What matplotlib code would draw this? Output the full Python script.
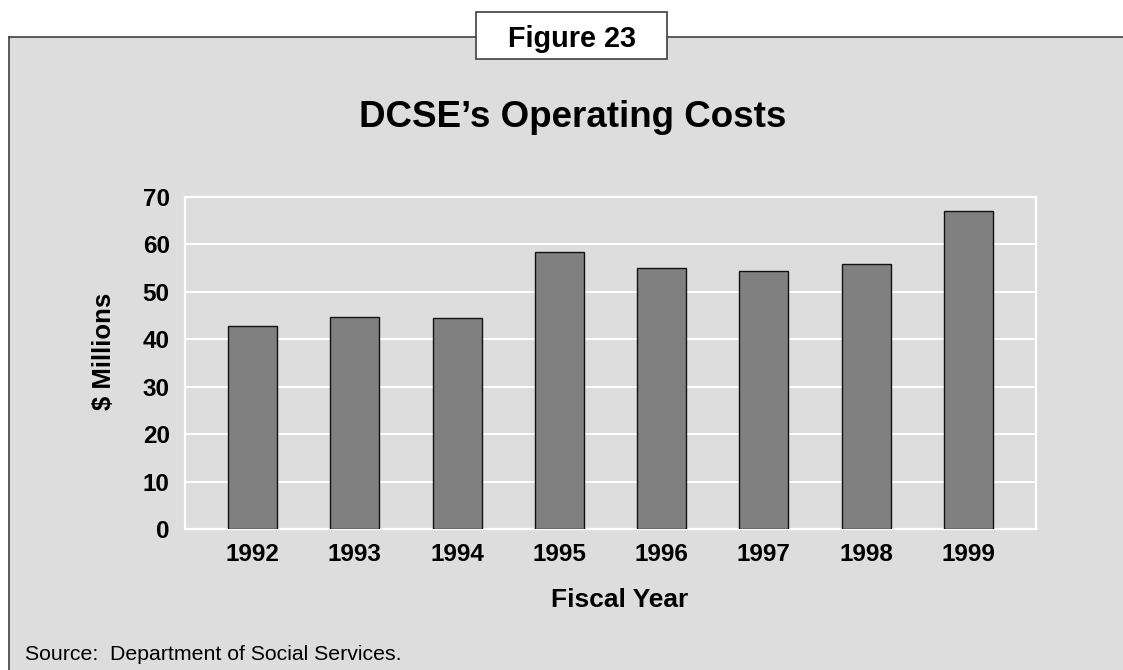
import matplotlib.pyplot as plt
from matplotlib.patches import Rectangle
from matplotlib.lines import Line2D

plt.rcParams['font.family'] = ['Liberation Sans', 'DejaVu Sans']

# Data
years = ['1992', '1993', '1994', '1995', '1996', '1997', '1998', '1999']
costs = [42.8, 44.8, 44.5, 58.3, 55.0, 54.5, 55.8, 67.1]
y_ticks = [0, 10, 20, 30, 40, 50, 60, 70]

W, H = 1123, 670
BG = '#dddddd'
FRAME = '#404040'


def fx(px):
    return px / W


def fy(py):
    return 1 - py / H


fig = plt.figure(figsize=(W / 100, H / 100), dpi=100, facecolor='white')

# grey panel with frame lines on top and left
fig.patches.append(Rectangle((fx(9), 0), 1 - fx(9), fy(37), transform=fig.transFigure,
                             facecolor=BG, edgecolor='none', zorder=-10))
fig.lines.append(Line2D([fx(9), 1], [fy(37), fy(37)], transform=fig.transFigure,
                        color=FRAME, lw=1.2, zorder=-5))
fig.lines.append(Line2D([fx(9), fx(9)], [fy(37), 0], transform=fig.transFigure,
                        color=FRAME, lw=1.2, zorder=-5))

# "Figure 23" box
fig.patches.append(Rectangle((fx(476), fy(59)), fx(667) - fx(476), fy(12) - fy(59),
                             transform=fig.transFigure, facecolor='white',
                             edgecolor=FRAME, lw=1.2, zorder=3))
fig.text(fx(572), fy(47), 'Figure 23', ha='center', va='baseline',
         fontsize=20.8, fontweight='bold', zorder=4)

fig.text(fx(573), fy(127), 'DCSE\u2019s Operating Costs', ha='center', va='baseline',
         fontsize=26.5, fontweight='bold')

ax = fig.add_axes([fx(185), fy(529), fx(1036) - fx(185), fy(197) - fy(529)])
ax.set_facecolor(BG)
x = range(len(years))
ax.bar(x, costs, width=0.48, color='#808080', edgecolor='#111111', linewidth=1.0, zorder=3)
ax.set_xlim(-0.66, len(years) - 0.34)
ax.set_ylim(0, 70)
ax.set_yticks(y_ticks)
ax.set_xticks(list(x))
ax.set_xticklabels(years)
ax.tick_params(length=0, labelsize=17.5)
for lab in ax.get_xticklabels() + ax.get_yticklabels():
    lab.set_fontweight('bold')
ax.tick_params(axis='y', pad=11)
ax.tick_params(axis='x', pad=10)
ax.grid(axis='y', color='white', linewidth=1.4, zorder=1)
for s in ax.spines.values():
    s.set_color('white')
    s.set_linewidth(1.6)
    s.set_zorder(2)

fig.text(fx(619.5), fy(607), 'Fiscal Year', ha='center', va='baseline',
         fontsize=19, fontweight='bold')
fig.text(fx(104), fy(351), '$ Millions', ha='center', va='center', rotation=90,
         fontsize=18.5, fontweight='bold')

fig.text(fx(25), fy(660), 'Source:  Department of Social Services.', ha='left',
         va='baseline', fontsize=15.3)

fig.savefig('out.png', dpi=100, facecolor='white')
